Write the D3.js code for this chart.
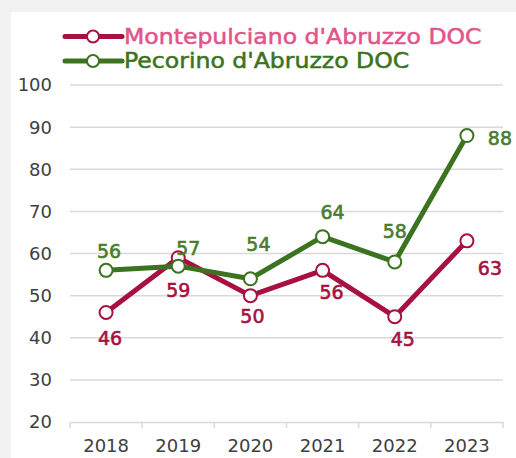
<!DOCTYPE html>
<html>
<head>
<meta charset="utf-8">
<script src="https://cdn.jsdelivr.net/npm/d3@7"></script>
<style>
  html, body { margin: 0; padding: 0; background: #f2f2f2; }
  svg { display: block; font-family: "DejaVu Sans", sans-serif; }
</style>
</head>
<body>
<div class="container"></div>
<script>
// data
const years = ["2018", "2019", "2020", "2021", "2022", "2023"]
const montepulciano = [46, 59, 50, 56, 45, 63]
const pecorino = [56, 57, 54, 64, 58, 88]
const yTicks = [20, 30, 40, 50, 60, 70, 80, 90, 100]

// label nudges (px from the point), not data
const redNudge = [[4, 26], [0, 32], [2, 21], [9, 22], [8, 22], [23, 27]]
const greenNudge = [[3, -19], [10, -18], [8, -35], [10, -24], [0, -31], [33, 3]]

const width = 516, height = 458
const margin = ({ top: 85, right: 13, bottom: 36, left: 70 })

const series = [
  { name: "Montepulciano d'Abruzzo DOC", values: montepulciano, line: "#a8103f", label: "#a8103f", legend: "#e2548a", nudge: redNudge },
  { name: "Pecorino d'Abruzzo DOC", values: pecorino, line: "#3b7320", label: "#4a7c2c", legend: "#3b7320", nudge: greenNudge }
]

const svg = d3.select(".container").append("svg")
  .attr("width", width)
  .attr("height", height)

// white panel
svg.append("rect")
  .attr("x", 11).attr("y", 12)
  .attr("width", width - 11).attr("height", height - 12)
  .attr("fill", "#fff")

const x = d3.scaleBand()
  .domain(years)
  .range([margin.left, width - margin.right])

const y = d3.scaleLinear()
  .domain([20, 100])
  .range([height - margin.bottom, margin.top])

// gridlines
svg.append("g")
  .selectAll("line")
  .data(yTicks.slice(1))
  .join("line")
  .attr("x1", margin.left)
  .attr("x2", width - margin.right)
  .attr("y1", d => y(d))
  .attr("y2", d => y(d))
  .attr("stroke", "#d9d9d9")
  .attr("stroke-width", 1.5)

// y labels
svg.append("g")
  .selectAll("text")
  .data(yTicks)
  .join("text")
  .attr("x", 52)
  .attr("y", d => y(d))
  .attr("dy", "0.36em")
  .attr("text-anchor", "end")
  .attr("font-size", 18)
  .attr("fill", "#404040")
  .text(d => d)

// x axis
const gx = svg.append("g")
  .attr("transform", `translate(0,${y(20)})`)
  .call(d3.axisBottom(x).tickSize(0).tickPadding(17))
gx.select(".domain").attr("stroke", "#d9d9d9").attr("stroke-width", 1.5)
gx.selectAll(".tick text").attr("font-size", 18).attr("fill", "#404040")
  .attr("font-family", "DejaVu Sans, sans-serif")
svg.append("g")
  .selectAll("line")
  .data(years.concat(["end"]))
  .join("line")
  .attr("x1", (d, i) => i < years.length ? x(d) : x(years[years.length - 1]) + x.bandwidth())
  .attr("x2", (d, i) => i < years.length ? x(d) : x(years[years.length - 1]) + x.bandwidth())
  .attr("y1", y(20))
  .attr("y2", y(20) + 6)
  .attr("stroke", "#d9d9d9")
  .attr("stroke-width", 1.5)

const cx = d => x(d) + x.bandwidth() / 2

const line = d3.line()
  .x((d, i) => cx(years[i]))
  .y(d => y(d))

series.forEach(s => {
  const g = svg.append("g")
  g.append("path")
    .datum(s.values)
    .attr("fill", "none")
    .attr("stroke", s.line)
    .attr("stroke-width", 5)
    .attr("stroke-linejoin", "round")
    .attr("d", line)
  g.selectAll("circle")
    .data(s.values)
    .join("circle")
    .attr("cx", (d, i) => cx(years[i]))
    .attr("cy", d => y(d))
    .attr("r", 6.5)
    .attr("fill", "#fff")
    .attr("stroke", s.line)
    .attr("stroke-width", 2)
})

series.forEach(s => {
  svg.append("g")
    .selectAll("text")
    .data(s.values)
    .join("text")
    .attr("x", (d, i) => cx(years[i]) + s.nudge[i][0])
    .attr("y", (d, i) => y(d) + s.nudge[i][1])
    .attr("dy", "0.36em")
    .attr("text-anchor", "middle")
    .attr("font-size", 19)
    .attr("fill", s.label)
    .attr("stroke", s.label)
    .attr("stroke-width", 0.6)
    .text(d => d)
})

// legend
const legend = svg.append("g")
  .selectAll("g")
  .data(series)
  .join("g")
  .attr("transform", (d, i) => `translate(65,${36.5 + i * 24.5})`)
legend.append("line")
  .attr("x1", 0).attr("x2", 57)
  .attr("stroke", d => d.line)
  .attr("stroke-width", 5)
  .attr("stroke-linecap", "round")
legend.append("circle")
  .attr("cx", 28).attr("r", 6)
  .attr("fill", "#fff")
  .attr("stroke", d => d.line)
  .attr("stroke-width", 2)
legend.append("text")
  .attr("transform", "translate(59,0) scale(1.15,1)")
  .attr("dy", "0.36em")
  .attr("font-size", 20.5)
  .attr("fill", d => d.legend)
  .attr("stroke", d => d.legend)
  .attr("stroke-width", 0.5)
  .text(d => d.name)
</script>
</body>
</html>
